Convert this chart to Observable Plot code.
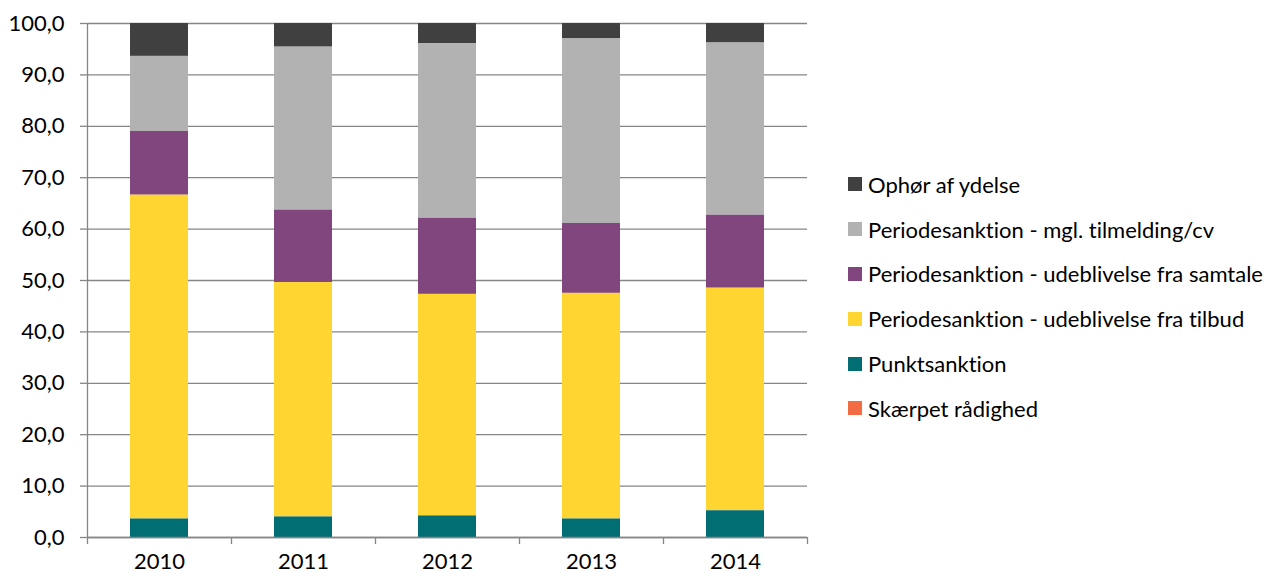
<!DOCTYPE html>
<html>
<head>
<meta charset="utf-8">
<script src="https://cdn.jsdelivr.net/npm/d3@7"></script>
<script src="https://cdn.jsdelivr.net/npm/@observablehq/plot@0.6"></script>
<style>
  html, body { margin: 0; padding: 0; background: #fff; }
  #wrap { position: relative; width: 1271px; height: 576px; font-family: Lato, "Open Sans", sans-serif; font-variant-ligatures: none; }
  #legend { position: absolute; left: 848px; top: 162px; }
  .row { display: flex; align-items: center; height: 44.8px; font-size: 22px; color: #000; white-space: nowrap; font-variant-ligatures: none; }
  .sw { width: 14px; height: 14px; margin-right: 6px; flex: none; }
</style>
</head>
<body>
<div id="wrap"><div id="chart"></div><div id="legend"></div></div>
<script>
const years = ["2010", "2011", "2012", "2013", "2014"];
const seriesNames = [
  "Ophør af ydelse",
  "Periodesanktion - mgl. tilmelding/cv",
  "Periodesanktion - udeblivelse fra samtale",
  "Periodesanktion - udeblivelse fra tilbud",
  "Punktsanktion",
  "Skærpet rådighed"
];
const colors = ["#404040", "#b2b2b2", "#82467e", "#fed531", "#006e73", "#f26b43"];

const ophoer     = [6.4, 4.6, 3.9, 3.0, 3.8];
const mglTilm    = [14.6, 31.7, 34.0, 35.9, 33.5];
const udebSamt   = [12.4, 14.1, 14.8, 13.6, 14.2];
const udebTilbud = [63.0, 45.6, 43.1, 43.9, 43.3];
const punkt      = [3.6, 4.0, 4.2, 3.6, 5.2];
const skaerpet   = [0, 0, 0, 0, 0];
const yTicks = [0, 10, 20, 30, 40, 50, 60, 70, 80, 90, 100];

const seriesValues = [ophoer, mglTilm, udebSamt, udebTilbud, punkt, skaerpet];
const rows = [];
seriesNames.forEach((s, si) => years.forEach((y, yi) => rows.push({year: y, series: s, value: seriesValues[si][yi]})));
const stackOrder = seriesNames.slice().reverse();

const W = 820, H = 576, mL = 87, mR = 13, mT = 23, mB = 39;
const step = (W - mL - mR) / years.length;
const fmt = d => d3.format(".1f")(d).replace(".", ",");
const gridColor = "#868686";

const chart = Plot.plot({
  width: W, height: H,
  marginLeft: mL, marginRight: mR, marginTop: mT, marginBottom: mB,
  style: {fontFamily: "Lato, 'Open Sans', sans-serif", fontSize: "22px", color: "#000", background: "#fff"},
  x: {domain: years, paddingInner: 0.6, paddingOuter: 0.3, label: null},
  y: {domain: [0, 100], label: null},
  color: {domain: seriesNames, range: colors},
  marks: [
    Plot.gridY(yTicks, {stroke: gridColor, strokeOpacity: 1, strokeWidth: 1.3}),
    Plot.ruleX([years[0]], {dx: -step / 2, stroke: gridColor, strokeWidth: 1.3}),
    Plot.barY(rows, Plot.stackY({x: "year", y: "value", fill: "series", order: stackOrder})),
    Plot.ruleY([0], {stroke: gridColor, strokeWidth: 1.3}),
    Plot.axisY({ticks: yTicks, tickFormat: fmt, tickSize: 7, tickPadding: 16, stroke: gridColor, strokeWidth: 1.3, fill: "#000"}),
    Plot.axisX({tickSize: 0, tickPadding: 16, fill: "#000"}),
    Plot.ruleX(years, {y1: 0, y2: 0, insetBottom: -7, dx: -step / 2, stroke: gridColor, strokeWidth: 1.3}),
    Plot.ruleX([years[years.length - 1]], {y1: 0, y2: 0, insetBottom: -7, dx: step / 2, stroke: gridColor, strokeWidth: 1.3})
  ]
});
document.getElementById("chart").appendChild(chart);

const legend = document.getElementById("legend");
seriesNames.forEach((s, i) => {
  const r = document.createElement("div");
  r.className = "row";
  r.innerHTML = `<span class="sw" style="background:${colors[i]}"></span><span>${s}</span>`;
  legend.appendChild(r);
});
</script>
</body>
</html>
